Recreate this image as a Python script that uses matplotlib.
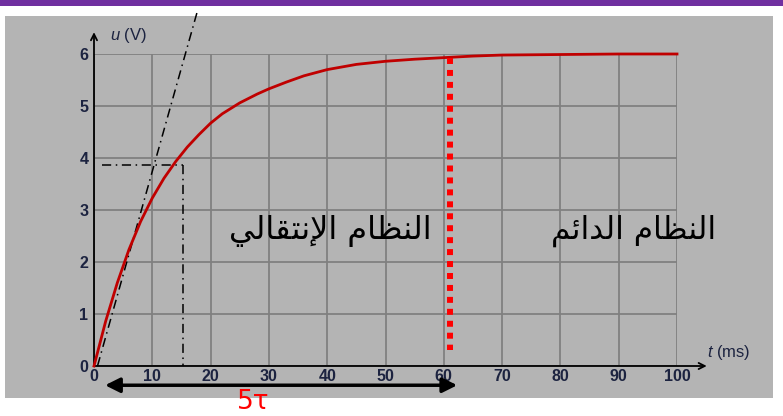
import numpy as np
import matplotlib.pyplot as plt
from matplotlib.patches import Rectangle

plt.rcParams['mathtext.fontset'] = 'custom'
plt.rcParams['mathtext.it'] = 'Liberation Sans:italic'
plt.rcParams['mathtext.rm'] = 'Liberation Sans'

# charge curve of the capacitor, u (V) against t (ms)
t_ms = [0, 2, 4, 6, 8, 10, 12, 14, 16, 18, 20, 22, 25, 28, 30, 33, 36, 40, 45, 50, 55, 60, 65, 70, 80, 90, 100]
u_volt = [0, 0.86, 1.60, 2.24, 2.78, 3.23, 3.61, 3.93, 4.21, 4.45, 4.67, 4.85, 5.06, 5.23, 5.33,
          5.46, 5.58, 5.70, 5.80, 5.86, 5.90, 5.93, 5.96, 5.98, 5.99, 6.0, 6.0]

# tangent at the origin and the tau construction
tangent_t = [0.6, 17.8]
tangent_u = [0, 6.85]
tau_t = 15.2
tau_u = 3.87
end_t = 61        # end of the transient regime
arrow_t = [1.9, 62.3]

x_ticks = list(range(0, 101, 10))
y_ticks = list(range(0, 7))

# arabic labels written with presentation forms, stored in reading order
transient_label = '\uFE8D\uFEDF\uFEE8\uFEC8\uFE8E\uFEE1 \uFE8D\uFEF9\uFEE7\uFE98\uFED8\uFE8E\uFEDF\uFEF2'
steady_label = '\uFE8D\uFEDF\uFEE8\uFEC8\uFE8E\uFEE1 \uFE8D\uFEDF\uFEAA\uFE8D\uFE8B\uFEE2'

def visual(s):
    return ''.join(reversed(s))

W, H = 783, 416
fig = plt.figure(figsize=(W / 100, H / 100), dpi=100)
fig.patch.set_facecolor('white')
fig.patches.append(Rectangle((0, 410 / H), 1, 6 / H, transform=fig.transFigure,
                             facecolor='#7030a0', edgecolor='none', zorder=-10))
fig.patches.append(Rectangle((5 / W, 18 / H), 768 / W, 382 / H, transform=fig.transFigure,
                             facecolor='#b4b4b4', edgecolor='none', zorder=-10))

ax = fig.add_axes([94 / W, 50 / H, (677 - 94) / W, (366 - 54) / H])
ax.set_zorder(1)
ax.set_facecolor('none')
ax.set_xlim(0, 100)
ax.set_ylim(0, 6)
for s in ax.spines.values():
    s.set_visible(False)
ax.set_xticks(x_ticks)
ax.set_yticks(y_ticks)
ax.grid(True, color='#808080', lw=1.3)
ax.tick_params(length=0, colors='#1c2340', labelsize=11.5)
ax.tick_params(axis='x', pad=2.5)
ax.tick_params(axis='y', pad=4)
for lab in ax.get_xticklabels() + ax.get_yticklabels():
    lab.set_family('Liberation Sans')
    lab.set_weight('bold')

# axes with arrows
ax.annotate('', xy=(105.1, 0), xytext=(0, 0), annotation_clip=False,
            arrowprops=dict(arrowstyle='->', color='black', lw=1.3, mutation_scale=11, shrinkA=0, shrinkB=0))
ax.annotate('', xy=(0, 6.42), xytext=(0, 0), annotation_clip=False,
            arrowprops=dict(arrowstyle='->', color='black', lw=1.3, mutation_scale=11, shrinkA=0, shrinkB=0))
ax.text(2.8, 6.36, r'$u$ (V)', fontsize=12, color='#1c2340', va='center', ha='left', family='Liberation Sans')
ax.text(105.1, 0.25, r'$t$ (ms)', fontsize=12, color='#1c2340', va='center', ha='left', family='Liberation Sans')

# tau construction
ax.plot(tangent_t, tangent_u, color='black', lw=1.1, ls=(0, (6, 3, 1, 3)), clip_on=False, zorder=3)
ax.plot([1.3, tau_t], [tau_u, tau_u], color='black', lw=1.1, ls=(0, (6, 3, 1, 3)), zorder=3)
ax.plot([tau_t, tau_t], [tau_u, 0], color='black', lw=1.1, ls=(0, (6, 3, 1, 3)), zorder=3)

ax.plot(t_ms, u_volt, color='#c00000', lw=2, zorder=4, clip_on=False)

# limit between the two regimes
ax.plot([end_t, end_t], [5.93, 0.3], color='#ff0000', lw=4.3, ls=(0, (1, 1)), zorder=5)

ax.text(40.5, 2.6, visual(transient_label), fontsize=23, family='DejaVu Sans',
        ha='center', va='center', color='black')
ax.text(92.6, 2.6, visual(steady_label), fontsize=22.5, family='DejaVu Sans',
        ha='center', va='center', color='black')

# duration 5 tau
ax.annotate('', xy=(arrow_t[1], -0.37), xytext=(arrow_t[0], -0.37), annotation_clip=False,
            arrowprops=dict(arrowstyle='<|-|>', color='black', lw=2.5, mutation_scale=22, shrinkA=0, shrinkB=0))
ax.text(27.3, -0.7, '5\u03c4', fontsize=19, color='#ff0000', ha='center', va='center', family='DejaVu Sans')

fig.savefig('out.png', dpi=100)
